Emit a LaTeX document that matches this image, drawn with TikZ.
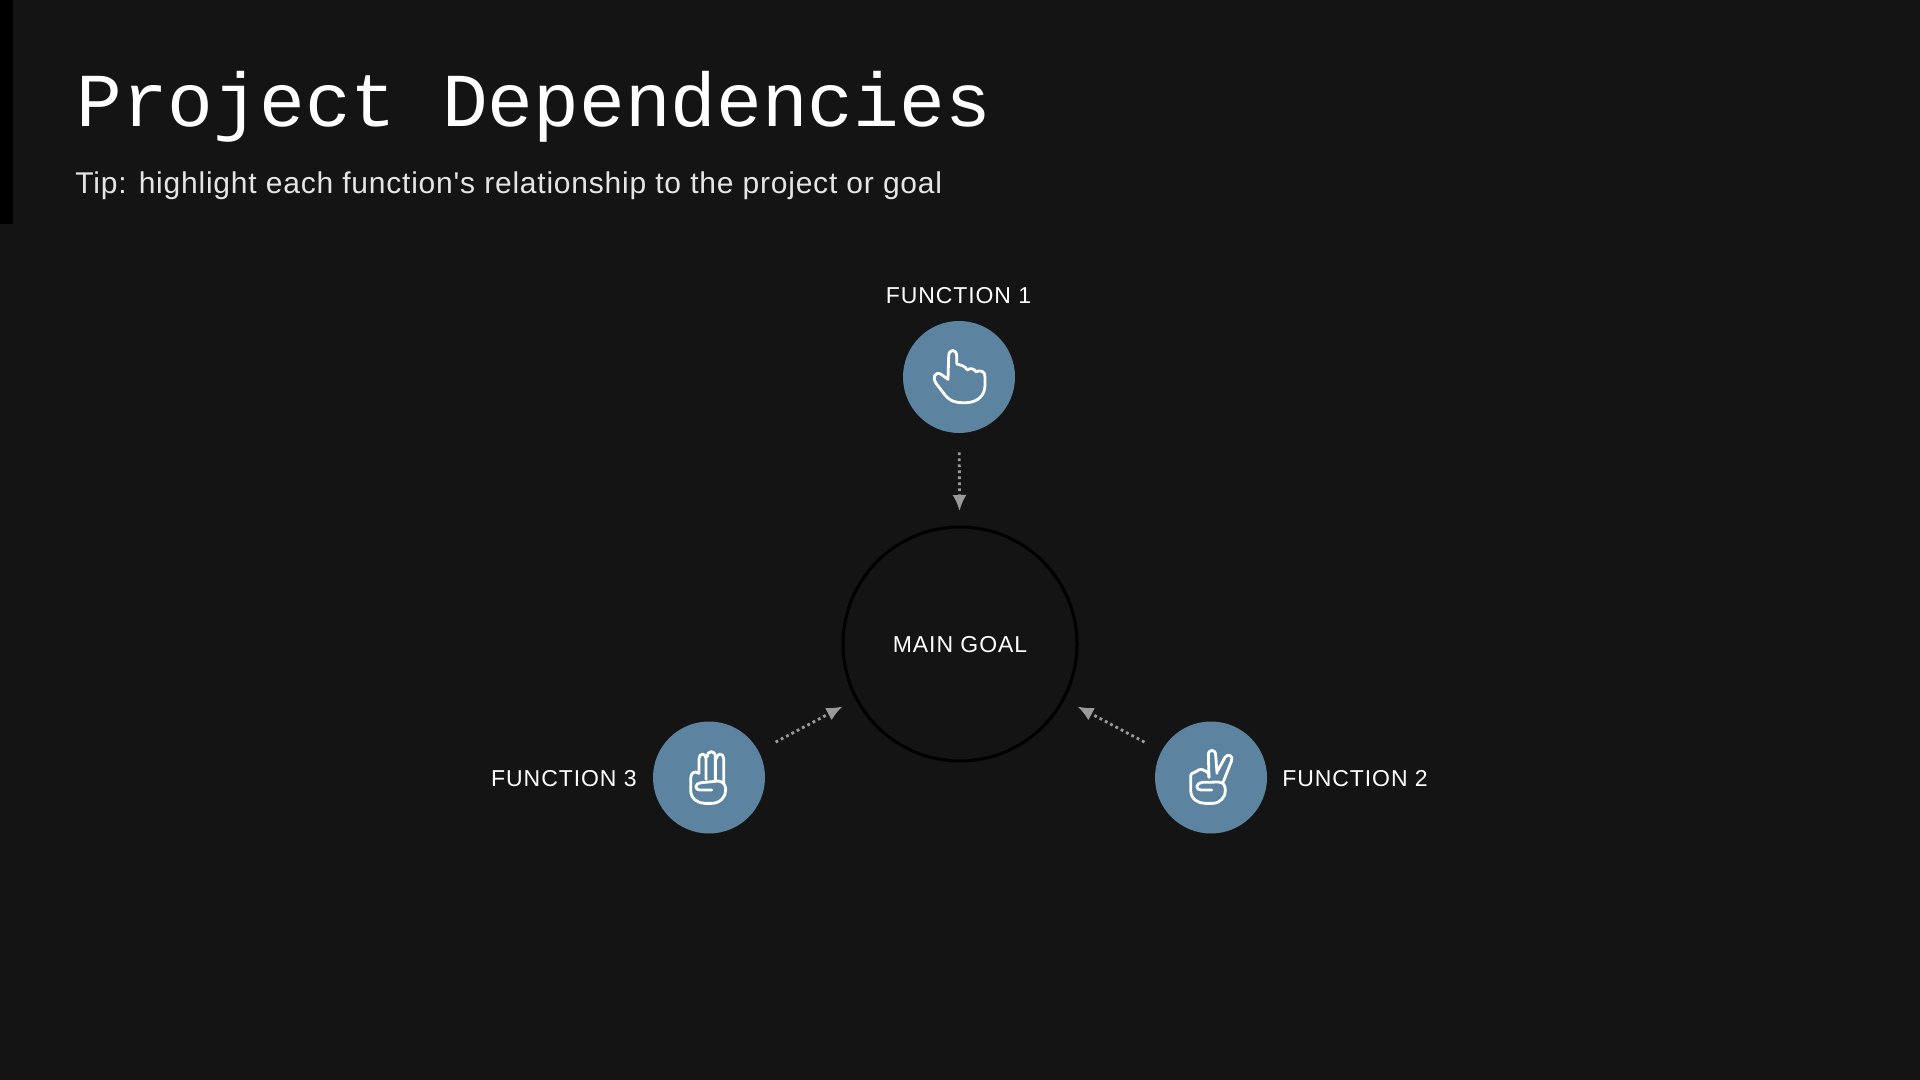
\documentclass[tikz,border=0pt]{standalone}
\usepackage{fontspec}
\usetikzlibrary{arrows.meta}
\newfontfamily\titlefont{Liberation Mono}
\newfontfamily\tipfont[LetterSpace=2.6]{Liberation Sans}
\newfontfamily\funcfont[LetterSpace=4]{Liberation Sans}
\definecolor{pagebg}{HTML}{141414}
\definecolor{funcblue}{HTML}{5C84A1}
\definecolor{depgray}{HTML}{9A9A9A}
\tikzset{
 funcnode/.style={circle,fill=funcblue,minimum size=56pt,inner sep=0pt},
 goalnode/.style={circle,draw=black,line width=1.5pt,minimum size=117pt,inner sep=0pt,text=white,text height=9pt,font=\funcfont\fontsize{11.5}{14}\selectfont},
 funclabel/.style={inner sep=0pt,text=white,font=\funcfont\fontsize{11.5}{14}\selectfont},
 dep/.style={depgray,line width=1.4pt,dash pattern=on 1.4pt off 1.6pt,shorten <=9.5pt,shorten >=7.25pt,-{Latex[length=8pt,width=7pt,sep=0pt]}},
 handline/.style={white,line width=1.4pt,line cap=round,line join=round}
}
\begin{document}
\begin{tikzpicture}[x=0.5pt,y=-0.5pt]
 \fill[pagebg](0,0) rectangle (1920,1080);
 \useasboundingbox (0,0) rectangle (1920,1080);
 \fill[black](0,0) rectangle (12.5,224);
 \node[anchor=base west,inner sep=0pt,text=white,font=\titlefont\fontsize{38.1}{44}\selectfont] (title) at (76,127) {Project Dependencies};
 \node[anchor=base west,inner sep=0pt,text=white!90!black,font=\tipfont\fontsize{15}{18}\selectfont] (tip) at (75,194) {Tip: highlight each function's relationship to the project or goal};
 \node[goalnode] (goal) at (960,644) {MAIN GOAL};
 \node[funcnode] (f1) at (959,377) {};
 \node[funcnode] (f2) at (1211,777.5) {};
 \node[funcnode] (f3) at (709,777.5) {};
 \node[funclabel,anchor=base] (f1label) at (958.5,303.5) {FUNCTION 1};
 \node[funclabel,anchor=base east] (f3label) at (637,786) {FUNCTION 3};
 \node[funclabel,anchor=base west] (f2label) at (1282,786) {FUNCTION 2};
 \draw[dep](f1)--(goal);
 \draw[dep](f2)--(goal);
 \draw[dep](f3)--(goal);
 \begin{scope}[shift={(920,340)},x=0.1667pt,y=-0.1667pt]
  \draw[handline](110,72)--(110,48)..controls (110,26) and (86,26)..(86,48)--(84,118)--(62,102)..controls (44,94) and (36,115)..(48,130)--(75,165)..controls (95,190) and (120,188)..(140,188)..controls (175,186) and (195,165)..(195,135)--(195,110)..controls (195,92) and (180,90)..(168,95)..controls (160,84) and (150,84)..(142,90)..controls (135,78) and (125,76)..(110,72);
 \end{scope}
 \begin{scope}[shift={(670,740)},x=0.1667pt,y=-0.1667pt]
  \draw[handline](87,100)--(87,56)..controls (87,38) and (108,38)..(108,56)--(108,118);
  \draw[handline](112,50)..controls (112,30) and (136,30)..(136,50)--(136,122);
  \draw[handline](139,56)..controls (140,38) and (161,38)..(161,56)--(161,130);
  \draw[handline](87,100)..controls (72,90) and (62,100)..(62,115)--(62,150)..controls (62,178) and (85,190)..(105,190)--(125,190)..controls (150,190) and (168,170)..(167,150)..controls (167,135) and (160,125)..(145,123)--(95,128)..controls (72,130) and (72,150)..(92,150)--(125,150);
 \end{scope}
 \begin{scope}[shift={(1170,740)},x=0.1667pt,y=-0.1667pt]
  \draw[handline](117,112)--(115,46)..controls (114,26) and (137,26)..(137,46)--(141,100);
  \draw[handline](143,92)--(165,52)..controls (173,38) and (192,48)..(184,64)--(160,125);
  \draw[handline](62,110)..controls (60,100) and (72,98)..(78,95)..controls (88,85) and (100,88)..(103,92)..controls (110,92) and (117,100)..(117,112);
  \draw[handline](62,110)--(62,150)..controls (62,178) and (85,190)..(105,190)--(128,190)..controls (150,190) and (168,170)..(166,150)..controls (165,135) and (160,127)..(145,126)--(98,127)..controls (75,130) and (75,150)..(95,150)--(125,150);
 \end{scope}
\end{tikzpicture}
\end{document}
